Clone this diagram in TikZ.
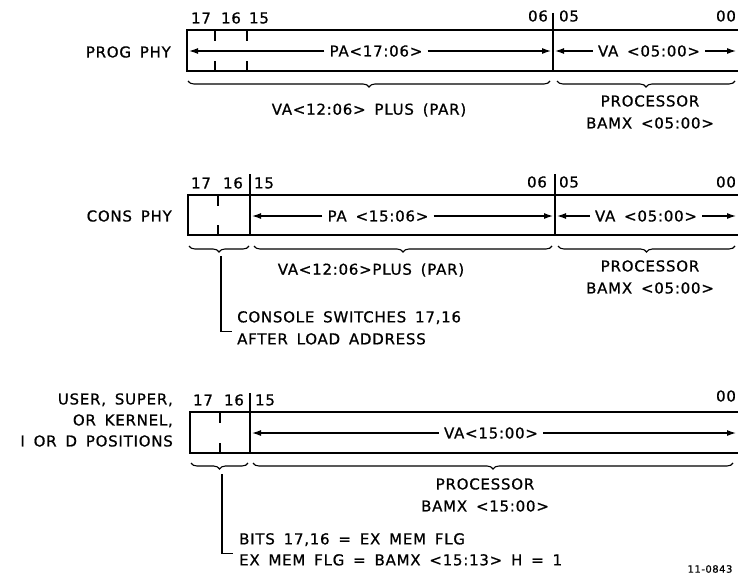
\documentclass[tikz,border=0pt]{standalone}
\usepackage{fontspec}
\setmainfont{DejaVu Sans}[LetterSpace=5,WordSpace=1.6,FakeBold=0.8]
\usetikzlibrary{arrows.meta,decorations.pathreplacing}
\tikzset{
  reg/.style={line width=2.3pt},
  bitmk/.style={line width=2pt},
  lbl/.style={font=\fontsize{15}{18}\selectfont, inner sep=0pt},
  dig/.style={font=\fontsize{15}{17}\selectfont, inner sep=0pt},
  fld/.style={lbl, inner xsep=5pt},
  arr/.style={-{Latex[length=9pt,width=6pt]}, line width=1.2pt},
  brc/.style={decorate, decoration={brace,mirror,amplitude=6pt}, line width=1.1pt},
  lead/.style={line width=1.1pt}
}
\begin{document}
\begin{tikzpicture}[x=1pt,y=-1pt]
\useasboundingbox (0,0) rectangle (738,578);
% ---- PROG PHY ----
\node[lbl,anchor=east] (prog) at (171,52) {PROG PHY};
\draw[reg] (745,30) -- (187,30) -- (187,71) -- (745,71);
\draw[reg] (553,13) -- (553,71);
\foreach \x in {215,247} {
  \draw[bitmk] (\x,30) -- (\x,41);
  \draw[bitmk] (\x,61) -- (\x,71);
}
\node[dig] (p17) at (201,18) {17};
\node[dig] (p16) at (231,18) {16};
\node[dig] (p15) at (259,18) {15};
\node[dig] (p06) at (538,16) {06};
\node[dig] (p05) at (569,16) {05};
\node[dig] (p00) at (726,16) {00};
\coordinate (pA) at (189,51);
\coordinate (pB) at (551,51);
\coordinate (pC) at (555,51);
\coordinate (pD) at (736,51);
\node[fld] (ppa) at (376,51) {PA<17:06>};
\node[fld] (pva) at (649,51) {VA <05:00>};
\draw[arr] (ppa) -- (pA);
\draw[arr] (ppa) -- (pB);
\draw[arr] (pva) -- (pC);
\draw[arr] (pva) -- (pD);
\draw[brc] (188,81) -- (550,81);
\draw[brc] (557,81) -- (735,81);
\node[lbl] (pvapar) at (369,110) {VA<12:06> PLUS (PAR)};
\node[lbl,align=center] (pproc) at (650,112) {PROCESSOR\\[4pt]BAMX <05:00>};
% ---- CONS PHY ----
\node[lbl,anchor=east] (cons) at (172,216) {CONS PHY};
\draw[reg] (745,195) -- (188,195) -- (188,235) -- (745,235);
\draw[reg] (250,174) -- (250,235);
\draw[reg] (555,174) -- (555,235);
\draw[bitmk] (218,195) -- (218,206);
\draw[bitmk] (218,225) -- (218,235);
\node[dig] (c17) at (201,183) {17};
\node[dig] (c16) at (233,183) {16};
\node[dig] (c15) at (264,183) {15};
\node[dig] (c06) at (537,182) {06};
\node[dig] (c05) at (569,182) {05};
\node[dig] (c00) at (726,182) {00};
\coordinate (cA) at (252,216);
\coordinate (cB) at (553,216);
\coordinate (cC) at (557,216);
\coordinate (cD) at (736,216);
\node[fld] (cpa) at (378,216) {PA <15:06>};
\node[fld] (cva) at (646,216) {VA <05:00>};
\draw[arr] (cpa) -- (cA);
\draw[arr] (cpa) -- (cB);
\draw[arr] (cva) -- (cC);
\draw[arr] (cva) -- (cD);
\draw[brc] (189,246) -- (249,246);
\draw[brc] (254,246) -- (552,246);
\draw[brc] (558,246) -- (735,246);
\node[lbl] (cvapar) at (371,270) {VA<12:06>PLUS (PAR)};
\node[lbl,align=center] (cproc) at (650,277) {PROCESSOR\\[4pt]BAMX <05:00>};
\coordinate (ctip) at (221,256);
\node[lbl,anchor=north west,align=left] (csw) at (237,311) {CONSOLE SWITCHES 17,16\\[4pt]AFTER LOAD ADDRESS};
\draw[lead] (ctip) |- ([xshift=-5pt,yshift=-4pt]csw.west);
% ---- USER, SUPER, KERNEL ----
\node[lbl,anchor=east,align=right] (mode) at (173,420) {USER, SUPER,\\[3pt]OR KERNEL,\\[3pt]I OR D POSITIONS};
\draw[reg] (745,412) -- (190,412) -- (190,453) -- (745,453);
\draw[reg] (250,393) -- (250,453);
\draw[bitmk] (220,412) -- (220,423);
\draw[bitmk] (220,443) -- (220,453);
\node[dig] (u17) at (203,400) {17};
\node[dig] (u16) at (234,400) {16};
\node[dig] (u15) at (265,400) {15};
\node[dig] (u00) at (726,396) {00};
\coordinate (uA) at (252,433);
\coordinate (uB) at (736,433);
\node[fld] (uva) at (491,433) {VA<15:00>};
\draw[arr] (uva) -- (uA);
\draw[arr] (uva) -- (uB);
\draw[brc] (191,463) -- (248,463);
\draw[brc] (253,463) -- (733,463);
\node[lbl,align=center] (uproc) at (485,495) {PROCESSOR\\[4pt]BAMX <15:00>};
\coordinate (utip) at (222,474);
\node[lbl,anchor=north west,align=left] (ubits) at (239,533) {BITS 17,16 = EX MEM FLG\\[3pt]EX MEM FLG = BAMX <15:13> H = 1};
\draw[lead] (utip) |- ([xshift=-6pt,yshift=-4pt]ubits.west);
\node[font=\fontsize{10}{12}\selectfont,inner sep=0pt] (fig) at (710,569) {11-0843};
\end{tikzpicture}
\end{document}
